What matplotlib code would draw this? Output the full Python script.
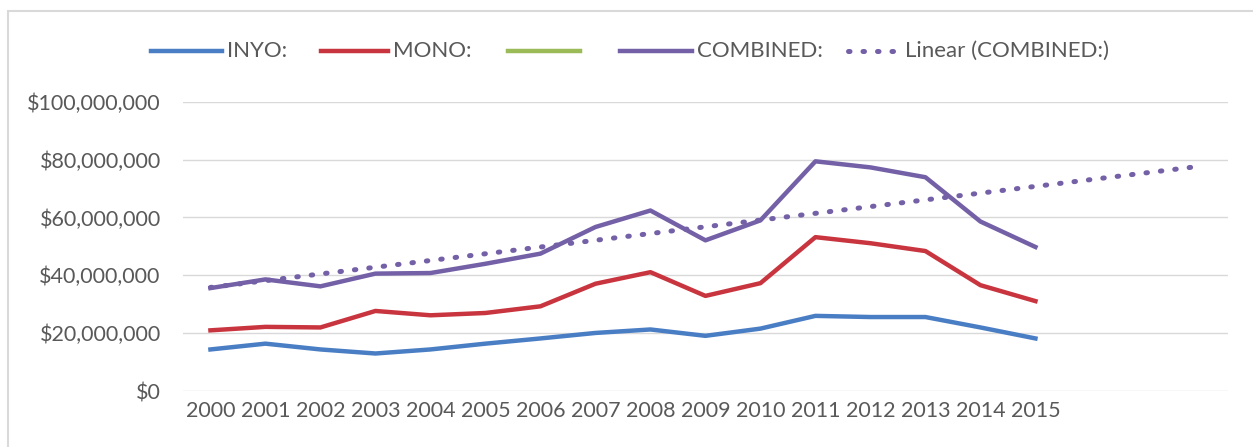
import numpy as np
import matplotlib.pyplot as plt
from matplotlib.lines import Line2D
from matplotlib.patches import Rectangle
from matplotlib.ticker import FuncFormatter

# ---- data ----
years = ["2000", "2001", "2002", "2003", "2004", "2005", "2006", "2007",
         "2008", "2009", "2010", "2011", "2012", "2013", "2014", "2015"]

inyo = [14.4, 16.4, 14.4, 13.0, 14.4, 16.4, 18.2, 20.1,
        21.3, 19.1, 21.6, 26.0, 25.6, 25.6, 22.0, 18.2]
mono = [21.0, 22.2, 22.0, 27.7, 26.2, 27.0, 29.3, 37.1,
        41.1, 32.9, 37.3, 53.2, 51.1, 48.4, 36.6, 31.1]
combined = [35.6, 38.6, 36.2, 40.6, 40.8, 44.0, 47.5, 56.7,
            62.4, 52.1, 59.0, 79.4, 77.3, 73.9, 58.6, 49.8]

series_labels = ["INYO:", "MONO:", "", "COMBINED:", "Linear (COMBINED:)"]
forecast_forward = 2.85   # trendline extends past the last year

# ---- styling ----
plt.rcParams['font.family'] = ['Lato', 'DejaVu Sans']
text_color = "#595959"
c_inyo = "#4A7EC4"
c_mono = "#C9353E"
c_green = "#9BBB59"
c_comb = "#7360A6"
trend_style = (0, (0.3, 2.6))

W, H = 1253, 447
fig = plt.figure(figsize=(W / 100, H / 100), dpi=100)
ax = fig.add_axes([0.146, 0.125, 0.834, 0.6475])

x = np.arange(len(years))
scale = 1e6
ax.plot(x, np.array(inyo) * scale, color=c_inyo, lw=3.2, zorder=3)
ax.plot(x, np.array(mono) * scale, color=c_mono, lw=3.2, zorder=3)
ax.plot(x, np.array(combined) * scale, color=c_comb, lw=3.2, zorder=3)

# linear trendline of COMBINED
slope, icpt = np.polyfit(x, combined, 1)
xt = np.array([0, len(x) - 1 + forecast_forward])
ax.plot(xt, (icpt + slope * xt) * scale, color=c_comb, lw=3.6,
        linestyle=trend_style, dash_capstyle="round", zorder=2)

ax.set_xlim(-0.5, len(x) - 1 + 3.5)
ax.set_ylim(0, 100e6)
ax.set_yticks(np.arange(0, 100e6 + 1, 20e6))
ax.yaxis.set_major_formatter(FuncFormatter(lambda v, p: "${:,.0f}".format(v)))
ax.set_xticks(x)
ax.set_xticklabels(years)

ax.grid(axis="y", color="#D9D9D9", lw=1)
ax.set_axisbelow(True)
for s in ax.spines.values():
    s.set_visible(False)
ax.tick_params(length=0, labelsize=15.5, colors=text_color, pad=7)
ax.tick_params(axis="y", pad=16)

# legend, laid out by hand like the Excel one
leg_colors = [c_inyo, c_mono, c_green, c_comb, c_comb]
leg_start = [151, 321, 508, 620, 848]
leg_len = [71, 67, 72, 72, 52]
leg_y = 1 - 51 / H
for lab, col, x0, ln in zip(series_labels, leg_colors, leg_start, leg_len):
    ls = trend_style if lab.startswith("Linear") else "-"
    lw = 3.6 if lab.startswith("Linear") else 3.2
    fig.add_artist(Line2D([x0 / W, (x0 + ln) / W], [leg_y, leg_y], color=col, lw=lw,
                          linestyle=ls, dash_capstyle="round"))
    fig.text((x0 + ln + 5) / W, leg_y, lab, fontsize=16, color=text_color,
             va="center", ha="left")

# chart border
fig.patches.append(Rectangle((8 / W, -0.1), 1.2, 1 - 11 / H + 0.1,
                             transform=fig.transFigure, fill=False,
                             edgecolor="#D9D9D9", lw=1.5))

fig.savefig("out.png", dpi=100)
